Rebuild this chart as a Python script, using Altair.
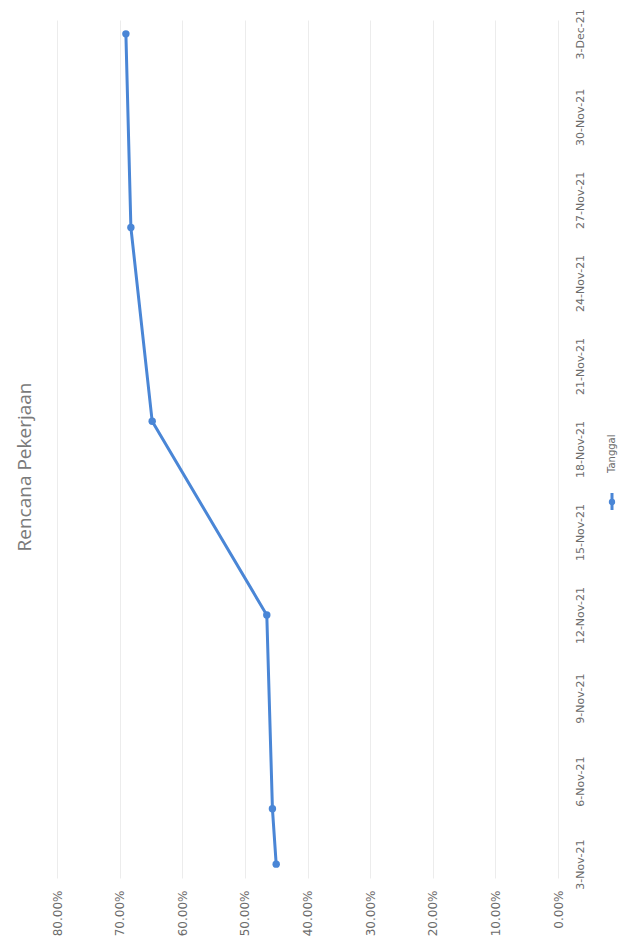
import altair as alt
import pandas as pd

dates = ["2021-11-03", "2021-11-05", "2021-11-12", "2021-11-19", "2021-11-26", "2021-12-03"]
values = [0.450, 0.456, 0.465, 0.648, 0.682, 0.690]
date_ticks = ["2021-11-03", "2021-11-06", "2021-11-09", "2021-11-12", "2021-11-15",
              "2021-11-18", "2021-11-21", "2021-11-24", "2021-11-27", "2021-11-30", "2021-12-03"]
pct_ticks = [0, 0.1, 0.2, 0.3, 0.4, 0.5, 0.6, 0.7, 0.8]
series_name = "Tanggal"
title_text = "Rencana Pekerjaan"

df = pd.DataFrame({"date": pd.to_datetime(dates), "value": values})

BLUE = "#4a86d6"
LABEL = "#6b6b6b"

x_enc = alt.X("value:Q",
              scale=alt.Scale(domain=[0, 0.8], reverse=True, nice=False),
              axis=alt.Axis(values=pct_ticks, format=".2%", labelAngle=270,
                            labelAlign="right", labelBaseline="middle",
                            ticks=False, domain=False, labelPadding=12,
                            grid=True, gridColor="#ececec", gridWidth=1,
                            labelFont="DejaVu Sans", labelFontSize=12,
                            labelColor=LABEL, title=None))
y_enc = alt.Y("date:T",
              scale=alt.Scale(domain=["2021-11-02T12:00:00", "2021-12-03T12:00:00"], nice=False),
              axis=alt.Axis(orient="right", values=[pd.Timestamp(d).isoformat() for d in date_ticks],
                            format="%-d-%b-%y", labelAngle=270, labelAlign="center",
                            labelBaseline="top", ticks=False, domain=False, grid=False,
                            labelPadding=16, labelFont="DejaVu Sans", labelFontSize=11,
                            labelColor=LABEL, title=None))

line = alt.Chart(df).mark_line(color=BLUE, strokeWidth=3).encode(
    x=x_enc, y=y_enc, order=alt.Order("date:T"))
pts = alt.Chart(df).mark_circle(color=BLUE, size=55, opacity=1).encode(x="value:Q", y="date:T")

leg_df = pd.DataFrame({"label": [series_name]})
leg_rule = alt.Chart(leg_df).mark_rule(color=BLUE, strokeWidth=3).encode(
    x=alt.value(555), y=alt.value(473), y2=alt.value(490))
leg_pt = alt.Chart(leg_df).mark_circle(color=BLUE, size=40, opacity=1).encode(
    x=alt.value(555), y=alt.value(482))
leg_txt = alt.Chart(leg_df).mark_text(angle=270, align="left", baseline="middle",
                                      font="DejaVu Sans", fontSize=10, color=LABEL).encode(
    x=alt.value(555), y=alt.value(453), text="label:N")

chart = alt.layer(line, pts, leg_rule, leg_pt, leg_txt).properties(
    width=501, height=858,
    title=alt.TitleParams(title_text, orient="left", anchor="middle", offset=16, dx=-18,
                          font="Open Sans", fontSize=19, fontWeight="normal", color="#7a7a7a"),
    autosize=alt.AutoSizeParams(type="none"),
    padding={"left": 49, "top": 12, "right": 60, "bottom": 60},
).configure_view(stroke=None)

chart.save("out.html", embed_options={"renderer": "svg", "actions": False})
